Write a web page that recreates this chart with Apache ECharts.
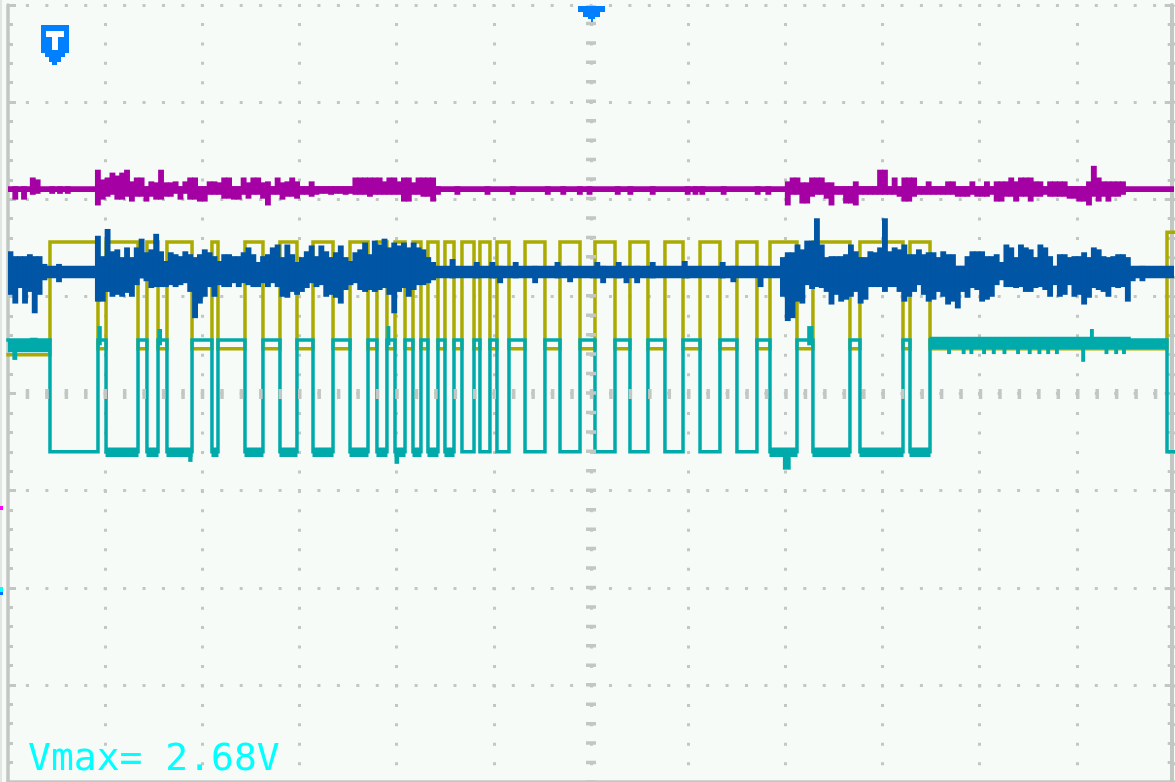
<!DOCTYPE html>
<html>
<head>
<meta charset="utf-8">
<script src="https://cdn.jsdelivr.net/npm/echarts@6/dist/echarts.min.js"></script>
<style>
html,body{margin:0;padding:0;background:#f6fbf8;}
#chart{width:1175px;height:782px;}
</style>
</head>
<body>
<div id="chart"></div>
<script>
// ---------------- DATA (x: horizontal divisions 0..12, y: vertical divisions 0..8 from bottom) ----------------
const ENV_STEP = 0.05; // sample spacing of recorded noise envelopes (div)

// Complementary logic lines (olive / teal): times of every state change, teal starts high
const edgeTimes = [0.432, 0.926, 1.009, 1.338, 1.430, 1.544, 1.636, 1.894, 2.099, 2.161,
  2.439, 2.624, 2.799, 2.974, 3.139, 3.345, 3.520, 3.705, 3.797, 3.900,
  3.983, 4.086, 4.168, 4.250, 4.322, 4.425, 4.497, 4.590, 4.672, 4.796,
  4.857, 4.960, 5.032, 5.156, 5.321, 5.526, 5.681, 5.887, 6.041, 6.247,
  6.401, 6.586, 6.761, 6.947, 7.122, 7.327, 7.502, 7.708, 7.842, 8.120,
  8.284, 8.665, 8.768, 9.211, 9.283, 9.489, 11.928];
const tealLevels = [4.55, 3.40];   // high, low
const oliveLevels = [5.56, 4.46];  // high, low
const oliveStartLevel = 4.40;
const oliveEndLevel = 5.66;

// Teal noise: [x0, x1, top, bottom]
const tealIdleBands = [[0, 0.432, 4.54, 4.43], [9.489, 11.55, 4.58, 4.46], [11.55, 11.928, 4.54, 4.46]];
const tealIdleSpikes = [
  [0.05, 0.09, 4.54, 4.35], [0.23, 0.30, 4.57, 4.45],
  [9.67, 9.70, 4.50, 4.41], [9.82, 9.85, 4.50, 4.41], [9.90, 9.93, 4.50, 4.41], [10.03, 10.06, 4.50, 4.41],
  [10.13, 10.16, 4.50, 4.41], [10.24, 10.27, 4.50, 4.41], [10.38, 10.41, 4.50, 4.41], [10.50, 10.53, 4.50, 4.41],
  [10.60, 10.63, 4.50, 4.41], [10.69, 10.72, 4.50, 4.41], [10.78, 10.81, 4.50, 4.41], [11.05, 11.08, 4.50, 4.33],
  [11.14, 11.17, 4.66, 4.50], [11.29, 11.32, 4.50, 4.41], [11.39, 11.42, 4.50, 4.41], [11.47, 11.50, 4.50, 4.41]
];
const tealNoisyLows = [[1.009, 1.338], [1.430, 1.544], [1.636, 1.894], [2.099, 2.161], [2.439, 2.624],
  [2.799, 2.974], [3.139, 3.345], [3.520, 3.705], [3.797, 3.900], [3.983, 4.086], [4.168, 4.250],
  [4.322, 4.425], [4.497, 4.590], [7.842, 8.120], [8.284, 8.665], [8.768, 9.211], [9.283, 9.489]];
const tealLowNoise = [3.44, 3.35];
const tealEdgeSpikes = [[0.926, 0.96, 4.69, 4.50], [1.544, 1.58, 4.66, 4.50], [3.900, 3.93, 4.69, 4.50],
  [8.23, 8.284, 4.69, 4.50], [1.86, 1.894, 3.40, 3.30], [3.983, 4.02, 3.40, 3.28], [7.98, 8.05, 3.40, 3.22]];

// Blue trace: quiet band + recorded noise bursts (top / bottom of envelope per sample)
const blueQuiet = [5.31, 5.19];
const blueBurstStarts = [0, 0.90, 7.95];
const blueBurst1Hi = [5.46, 5.41, 5.41, 5.41, 5.43, 5.41, 5.41, 5.33];
const blueBurst1Lo = [5.02, 4.93, 5.09, 4.93, 5.05, 4.83, 5.02, 5.17];
const blueBurst2Hi = [5.62, 5.41, 5.69, 5.46, 5.48, 5.40, 5.50, 5.40, 5.50, 5.59,
  5.45, 5.48, 5.64, 5.46, 5.36, 5.45, 5.43, 5.41, 5.46, 5.43,
  5.40, 5.43, 5.48, 5.45, 5.41, 5.36, 5.43, 5.43, 5.41, 5.41,
  5.45, 5.50, 5.43, 5.35, 5.41, 5.43, 5.50, 5.53, 5.40, 5.53,
  5.43, 5.35, 5.40, 5.46, 5.52, 5.41, 5.52, 5.46, 5.40, 5.45,
  5.52, 5.40, 5.36, 5.45, 5.48, 5.55, 5.43, 5.57, 5.53, 5.59,
  5.50, 5.55, 5.52, 5.55, 5.50, 5.55, 5.50, 5.48, 5.40, 5.35];
const blueBurst2Lo = [4.95, 4.95, 5.05, 5.00, 5.02, 5.00, 5.04, 5.00, 5.12, 5.19,
  5.16, 5.09, 5.10, 5.10, 5.10, 5.12, 5.10, 5.12, 5.14, 5.05,
  4.78, 4.93, 5.00, 5.10, 5.00, 5.12, 5.10, 5.10, 5.14, 5.10,
  5.14, 5.12, 5.10, 5.10, 5.14, 5.10, 5.14, 5.10, 5.00, 4.99,
  5.05, 5.02, 5.05, 5.09, 5.14, 5.10, 5.12, 5.00, 5.02, 4.99,
  4.93, 5.07, 5.12, 5.14, 5.07, 5.05, 5.07, 5.05, 5.07, 5.09,
  5.02, 4.83, 5.05, 5.09, 5.00, 5.07, 5.12, 5.12, 5.14, 5.17];
const blueBurst3Hi = [5.40, 5.45, 5.45, 5.53, 5.48, 5.57, 5.57, 5.80, 5.53, 5.40,
  5.41, 5.41, 5.41, 5.43, 5.53, 5.46, 5.40, 5.40, 5.46, 5.45,
  5.50, 5.80, 5.46, 5.50, 5.48, 5.53, 5.43, 5.43, 5.48, 5.43,
  5.45, 5.45, 5.40, 5.46, 5.43, 5.43, 5.31, 5.31, 5.41, 5.46,
  5.46, 5.46, 5.41, 5.41, 5.43, 5.35, 5.53, 5.50, 5.40, 5.53,
  5.50, 5.48, 5.40, 5.53, 5.50, 5.41, 5.31, 5.43, 5.43, 5.40,
  5.41, 5.41, 5.45, 5.40, 5.50, 5.48, 5.41, 5.40, 5.41, 5.43,
  5.43, 5.40, 5.29];
const blueBurst3Lo = [5.00, 4.75, 4.78, 4.95, 4.93, 5.12, 5.08, 5.10, 5.09, 5.05,
  4.92, 5.02, 4.95, 4.97, 5.00, 5.05, 4.93, 4.97, 5.10, 5.10,
  5.10, 5.05, 5.10, 5.10, 5.05, 4.95, 5.00, 5.05, 5.12, 5.02,
  4.95, 4.97, 5.05, 5.00, 4.92, 4.95, 4.88, 5.05, 4.99, 5.09,
  5.07, 4.95, 4.97, 5.00, 5.12, 5.17, 5.10, 5.10, 5.09, 5.10,
  5.05, 5.05, 5.09, 5.10, 5.07, 5.00, 5.12, 5.00, 5.02, 5.12,
  5.00, 5.02, 4.92, 4.99, 5.09, 5.07, 5.05, 5.00, 5.10, 5.09,
  5.10, 4.95, 5.16];
const blueBumps = [[0.50, 5.33, 5.15], [4.55, 5.38, 5.19], [4.80, 5.35, 5.19], [4.96, 5.35, 5.19],
  [5.04, 5.31, 5.14], [5.20, 5.35, 5.19], [5.40, 5.31, 5.14], [5.63, 5.35, 5.19], [5.76, 5.31, 5.15],
  [6.04, 5.35, 5.19], [6.10, 5.31, 5.14], [6.26, 5.35, 5.19], [6.34, 5.31, 5.14], [6.45, 5.31, 5.14],
  [6.61, 5.35, 5.19], [6.94, 5.36, 5.19], [7.33, 5.35, 5.19], [7.44, 5.31, 5.15], [7.72, 5.31, 5.10],
  [11.65, 5.31, 5.16], [11.85, 5.30, 5.21]];

// Magenta trace
const magQuiet = [6.13, 6.08];
const magBurstStarts = [0.90, 8.00];
const magBurst1Hi = [6.30, 6.20, 6.22, 6.27, 6.24, 6.27, 6.30, 6.18, 6.22, 6.22,
  6.13, 6.18, 6.17, 6.30, 6.17, 6.17, 6.18, 6.13, 6.18, 6.22,
  6.22, 6.13, 6.13, 6.18, 6.18, 6.17, 6.22, 6.22, 6.13, 6.13,
  6.22, 6.17, 6.22, 6.22, 6.17, 6.18, 6.13, 6.22, 6.17, 6.18,
  6.22, 6.18, 6.13, 6.13, 6.18, 6.13, 6.13, 6.13, 6.13, 6.13,
  6.13, 6.13, 6.13, 6.22, 6.22, 6.22, 6.22, 6.22, 6.22, 6.18,
  6.22, 6.22, 6.18, 6.22, 6.22, 6.17, 6.22, 6.22, 6.22, 6.22,
  6.13];
const magBurst1Lo = [5.94, 6.00, 6.03, 6.05, 6.00, 6.00, 6.03, 5.98, 6.03, 6.03,
  5.98, 6.03, 6.00, 6.00, 6.03, 6.03, 6.06, 6.00, 6.06, 6.00,
  6.00, 5.98, 5.98, 6.05, 6.05, 6.05, 6.01, 6.01, 6.00, 6.00,
  6.05, 6.01, 6.05, 6.05, 6.01, 5.94, 6.05, 6.05, 6.00, 6.03,
  6.03, 6.01, 6.05, 6.05, 6.03, 6.05, 6.06, 6.06, 6.05, 6.06,
  6.06, 6.05, 6.06, 6.05, 6.05, 6.05, 6.03, 6.05, 6.05, 6.05,
  6.05, 6.05, 6.05, 5.98, 5.98, 6.05, 6.05, 6.03, 6.03, 5.98,
  6.05];
const magBurst2Hi = [6.18, 6.22, 6.22, 6.17, 6.17, 6.22, 6.22, 6.22, 6.17, 6.17,
  6.13, 6.13, 6.13, 6.13, 6.18, 6.13, 6.13, 6.13, 6.13, 6.30,
  6.30, 6.13, 6.22, 6.13, 6.22, 6.22, 6.22, 6.13, 6.13, 6.18,
  6.13, 6.13, 6.13, 6.18, 6.18, 6.13, 6.13, 6.13, 6.18, 6.13,
  6.13, 6.18, 6.13, 6.18, 6.18, 6.18, 6.22, 6.18, 6.22, 6.22,
  6.22, 6.18, 6.18, 6.13, 6.18, 6.18, 6.18, 6.18, 6.13, 6.13,
  6.13, 6.13, 6.18, 6.34, 6.22, 6.18, 6.18, 6.18, 6.18, 6.18];
const magBurst2Lo = [5.94, 6.05, 6.05, 5.96, 5.96, 6.03, 6.05, 6.05, 6.01, 5.94,
  6.05, 6.05, 5.96, 5.96, 5.94, 6.05, 6.05, 6.05, 6.05, 6.05,
  6.05, 6.05, 6.05, 6.03, 5.98, 5.98, 6.03, 6.05, 6.05, 6.05,
  6.05, 6.05, 6.05, 6.05, 6.05, 6.03, 6.03, 6.03, 6.05, 6.03,
  6.03, 6.03, 6.05, 5.98, 5.98, 6.03, 6.03, 5.98, 6.03, 6.03,
  5.98, 6.03, 6.03, 6.05, 6.03, 6.03, 6.03, 6.03, 6.01, 6.01,
  5.98, 5.98, 5.94, 6.03, 5.98, 6.03, 5.98, 6.03, 6.03, 6.05];
const magBumps = [[0.05, 6.13, 6.00], [0.14, 6.13, 6.00], [0.23, 6.22, 6.05], [0.28, 6.20, 6.06],
  [0.43, 6.13, 6.06], [0.51, 6.13, 6.06], [0.59, 6.13, 6.06],
  [4.60, 6.13, 6.05], [4.91, 6.13, 6.05], [5.17, 6.13, 6.05], [5.53, 6.13, 6.05], [5.69, 6.13, 6.05],
  [5.86, 6.13, 6.05], [5.96, 6.13, 6.05], [6.25, 6.13, 6.05], [6.38, 6.13, 6.05], [6.61, 6.13, 6.05],
  [6.97, 6.13, 6.05], [7.05, 6.13, 6.05], [7.12, 6.13, 6.05], [7.34, 6.13, 6.05], [7.69, 6.13, 6.05],
  [7.80, 6.13, 6.05]];

const readoutText = 'Vmax= 2.68V';

// ---------------- BUILD ----------------
function digitalPoints(startHigh, hi, lo, firstLevel, lastLevel) {
  let state = startHigh;
  const pts = [[0, firstLevel]];
  edgeTimes.forEach((t, i) => {
    state = !state;
    const v = (i === edgeTimes.length - 1 && lastLevel != null) ? lastLevel : (state ? hi : lo);
    pts.push([t, v]);
  });
  pts.push([12, pts[pts.length - 1][1]]);
  return pts;
}
function envItems(quiet, starts, his, los, bumps) {
  const items = [[0, 12, quiet[0], quiet[1]]];
  starts.forEach((s, b) => {
    his[b].forEach((h, i) => items.push([s + i * ENV_STEP, s + (i + 1) * ENV_STEP, h, los[b][i]]));
  });
  bumps.forEach(([x, h, l]) => items.push([x, x + ENV_STEP, h, l]));
  return items;
}
const tealPts = digitalPoints(true, tealLevels[0], tealLevels[1], tealLevels[0], null);
const olivePts = digitalPoints(false, oliveLevels[0], oliveLevels[1], oliveStartLevel, oliveEndLevel);
const tealItems = [].concat(tealIdleBands, tealIdleSpikes,
  tealNoisyLows.map(([a, b]) => [a, b, tealLowNoise[0], tealLowNoise[1]]), tealEdgeSpikes);
const blueItems = envItems(blueQuiet, blueBurstStarts,
  [blueBurst1Hi, blueBurst2Hi, blueBurst3Hi], [blueBurst1Lo, blueBurst2Lo, blueBurst3Lo], blueBumps);
const magItems = envItems(magQuiet, magBurstStarts,
  [magBurst1Hi, magBurst2Hi], [magBurst1Lo, magBurst2Lo], magBumps);

const GRID = '#c3c7c3';
const BORDER = '#c3c7c3';
const C_OLIVE = '#aaaa00', C_TEAL = '#00aaaa', C_BLUE = '#0055a5', C_MAG = '#a400a4';

function bandSeries(name, items, color, z) {
  return {
    type: 'custom', name, z, silent: true, animation: false, clip: true,
    data: items,
    encode: { x: [0, 1], y: [2, 3] },
    renderItem(params, api) {
      const a = api.coord([api.value(0), api.value(2)]);
      const b = api.coord([api.value(1), api.value(3)]);
      return {
        type: 'rect',
        shape: { x: a[0] - 0.5, y: a[1] - 0.4, width: b[0] - a[0] + 1, height: b[1] - a[1] + 0.8 },
        style: { fill: color }
      };
    }
  };
}
function lineSeries(name, pts, color, z) {
  return {
    type: 'line', name, z, data: pts, step: 'end', symbol: 'none', showSymbol: false,
    silent: true, animation: false, clip: true,
    lineStyle: { color, width: 3.5, cap: 'square', join: 'miter' }
  };
}

const tickStyle = { color: GRID, width: 3 };
const chart = echarts.init(document.getElementById('chart'), null, { renderer: 'canvas' });
chart.setOption({
  animation: false,
  backgroundColor: '#f6fbf8',
  grid: { left: 8, top: 5, width: 1166, height: 778.3, show: false },
  xAxis: {
    type: 'value', min: 0, max: 12, interval: 1, position: 'top',
    axisLabel: { show: false },
    axisLine: { show: true, lineStyle: { color: BORDER, width: 3.5 } },
    axisTick: { show: true, inside: true, length: 8, lineStyle: tickStyle },
    minorTick: { show: true, splitNumber: 5, length: 4, lineStyle: tickStyle },
    splitLine: { show: true, lineStyle: { color: GRID, width: 3, type: [3, 16.456], dashOffset: 1.5 } }
  },
  yAxis: [{
    type: 'value', min: 0, max: 8, interval: 1, position: 'left',
    axisLabel: { show: false },
    axisLine: { show: true, lineStyle: { color: BORDER, width: 3.5 } },
    axisTick: { show: true, inside: true, length: 8, lineStyle: tickStyle },
    minorTick: { show: true, splitNumber: 5, length: 5, lineStyle: tickStyle },
    splitLine: { show: true, lineStyle: { color: GRID, width: 3, type: [3, 16.434], dashOffset: 1.5 } }
  }, {
    type: 'value', min: 0, max: 8, interval: 1, position: 'right', offset: -2.3,
    axisLabel: { show: false },
    axisLine: { show: true, lineStyle: { color: BORDER, width: 4 } },
    axisTick: { show: true, inside: true, length: 7, lineStyle: tickStyle },
    minorTick: { show: true, splitNumber: 5, length: 4, lineStyle: tickStyle },
    splitLine: { show: false }
  }],
  series: [
    {
      type: 'line', name: 'centre', z: 1, data: [[0, 4]], symbol: 'none', silent: true,
      lineStyle: { opacity: 0 },
      markLine: {
        silent: true, symbol: 'none', animation: false, label: { show: false },
        lineStyle: { color: GRID, width: 10, type: [3.5, 15.95], dashOffset: 1.75 },
        emphasis: { disabled: true },
        data: [{ xAxis: 6 }, { yAxis: 4 }]
      }
    },
    lineSeries('olive', olivePts, C_OLIVE, 3),
    bandSeries('teal-noise', tealItems, C_TEAL, 4),
    lineSeries('teal', tealPts, C_TEAL, 4),
    bandSeries('blue', blueItems, C_BLUE, 5),
    bandSeries('magenta', magItems, C_MAG, 6)
  ],
  graphic: [
    { type: 'rect', shape: { x: 0, y: 0, width: 2, height: 782 }, style: { fill: '#e2e6e2' }, silent: true, z: 50 },
    { type: 'rect', shape: { x: 0, y: 506, width: 3, height: 4 }, style: { fill: '#ff00ff' }, silent: true, z: 51 },
    { type: 'rect', shape: { x: 0, y: 587, width: 3, height: 5 }, style: { fill: '#00ffff' }, silent: true, z: 51 },
    { type: 'rect', shape: { x: 0, y: 592, width: 3, height: 3 }, style: { fill: '#0070ff' }, silent: true, z: 51 },
    {
      type: 'polygon', silent: true, z: 60,
      shape: { points: [[41, 25], [69, 25], [69, 53], [65, 53], [65, 57], [61, 57], [61, 62], [57, 62], [57, 65],
        [52, 65], [52, 62], [49, 62], [49, 57], [45, 57], [45, 53], [41, 53]] },
      style: { fill: '#0080ff' }
    },
    { type: 'rect', silent: true, z: 61, shape: { x: 46, y: 31, width: 18, height: 6 }, style: { fill: '#ffffff' } },
    { type: 'rect', silent: true, z: 61, shape: { x: 52, y: 37, width: 6, height: 13 }, style: { fill: '#ffffff' } },
    {
      type: 'polygon', silent: true, z: 60,
      shape: { points: [[578, 6], [605, 6], [605, 12], [600, 12], [600, 17], [595, 17], [595, 19], [593, 19], [593, 22],
        [591, 22], [591, 19], [588, 19], [588, 17], [583, 17], [583, 12], [578, 12]] },
      style: { fill: '#0080ff' }
    },
    {
      type: 'text', silent: true, z: 70, x: 28, y: 741,
      style: { text: readoutText, fill: '#00ffff', font: '38px "DejaVu Sans Mono", monospace', align: 'left', verticalAlign: 'top' }
    }
  ]
});
</script>
</body>
</html>
